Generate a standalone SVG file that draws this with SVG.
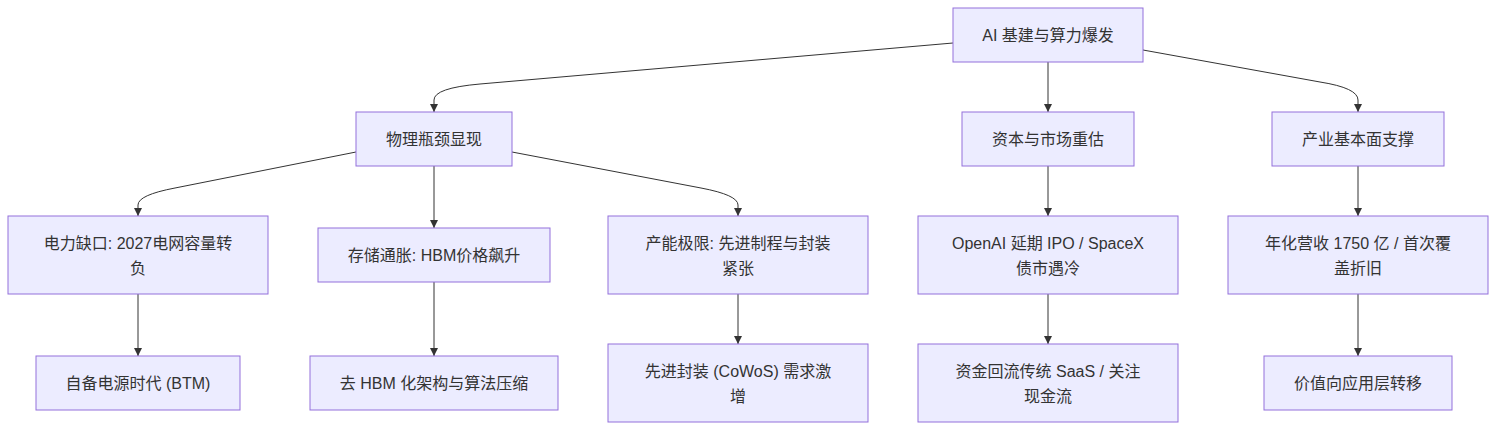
<svg xmlns="http://www.w3.org/2000/svg" width="1496" height="430" viewBox="0 0 1496 430">
<style>
.n rect{fill:#ECECFF;stroke:#9370DB;stroke-width:1}
.n text{font-family:"Liberation Sans","Noto Sans CJK SC",sans-serif;font-size:16px;fill:#333;text-anchor:middle;dominant-baseline:central}
.e path{fill:none;stroke:#333;stroke-width:1;marker-end:url(#arr)}
</style>
<defs>
<marker id="arr" viewBox="0 0 10 10" refX="10" refY="5" markerWidth="8" markerHeight="8" markerUnits="userSpaceOnUse" orient="auto">
<path d="M0,0 L10,5 L0,10 z" fill="#333"/>
</marker>
</defs>
<rect width="1496" height="430" fill="#fff"/>
<g class="e">
<path d="M953,43 L480,84 Q434,88 434,100 L434,112"/>
<path d="M1048,62 L1048,112"/>
<path d="M1143,50 L1320,82 Q1358,88 1358,100 L1358,112"/>
<path d="M356,152 L175,188 Q138,195 138,205 L138,216"/>
<path d="M434,166 L434,228"/>
<path d="M512,152 L701,188 Q738,195 738,205 L738,216"/>
<path d="M1048,166 L1048,216"/>
<path d="M1358,166 L1358,216"/>
<path d="M138,294 L138,356"/>
<path d="M434,282 L434,356"/>
<path d="M738,294 L738,344"/>
<path d="M1048,294 L1048,344"/>
<path d="M1358,294 L1358,356"/>
</g>
<g id="n0" class="n"><rect x="953" y="8" width="190" height="54"/><text x="1048" y="35">AI 基建与算力爆发</text></g>
<g id="n1" class="n"><rect x="356" y="112" width="156" height="54"/><text x="434" y="139">物理瓶颈显现</text></g>
<g id="n2" class="n"><rect x="962" y="112" width="172" height="54"/><text x="1048" y="139">资本与市场重估</text></g>
<g id="n3" class="n"><rect x="1272" y="112" width="172" height="54"/><text x="1358" y="139">产业基本面支撑</text></g>
<g id="n4" class="n"><rect x="8" y="216" width="260" height="78"/><text x="138" y="243">电力缺口: 2027电网容量转</text><text x="138" y="268">负</text></g>
<g id="n5" class="n"><rect x="318" y="228" width="232" height="54"/><text x="434" y="255">存储通胀: HBM价格飙升</text></g>
<g id="n6" class="n"><rect x="608" y="216" width="260" height="78"/><text x="738" y="243">产能极限: 先进制程与封装</text><text x="738" y="268">紧张</text></g>
<g id="n7" class="n"><rect x="918" y="216" width="260" height="78"/><text x="1048" y="243">OpenAI 延期 IPO / SpaceX</text><text x="1048" y="268">债市遇冷</text></g>
<g id="n8" class="n"><rect x="1228" y="216" width="260" height="78"/><text x="1358" y="243">年化营收 1750 亿 / 首次覆</text><text x="1358" y="268">盖折旧</text></g>
<g id="n9" class="n"><rect x="36" y="356" width="204" height="54"/><text x="138" y="383">自备电源时代 (BTM)</text></g>
<g id="n10" class="n"><rect x="310" y="356" width="248" height="54"/><text x="434" y="383">去 HBM 化架构与算法压缩</text></g>
<g id="n11" class="n"><rect x="608" y="344" width="260" height="78"/><text x="738" y="371">先进封装 (CoWoS) 需求激</text><text x="738" y="396">增</text></g>
<g id="n12" class="n"><rect x="918" y="344" width="260" height="78"/><text x="1048" y="371">资金回流传统 SaaS / 关注</text><text x="1048" y="396">现金流</text></g>
<g id="n13" class="n"><rect x="1264" y="356" width="188" height="54"/><text x="1358" y="383">价值向应用层转移</text></g>
</svg>
